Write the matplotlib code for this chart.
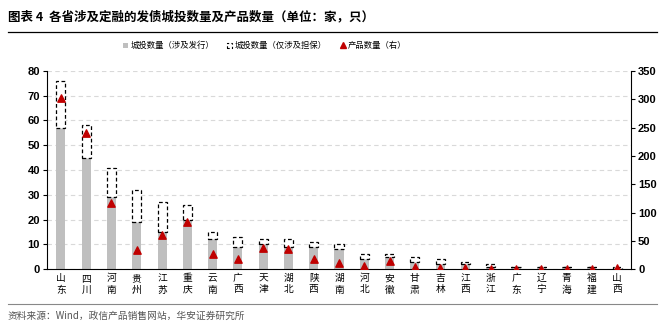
import matplotlib
matplotlib.use("Agg")
import matplotlib.pyplot as plt
from matplotlib.patches import Patch
from matplotlib.lines import Line2D

plt.rcParams['font.family'] = ['Noto Sans CJK SC', 'DejaVu Sans']

provinces = ["山东", "四川", "河南", "贵州", "江苏", "重庆", "云南", "广西", "天津", "湖北",
             "陕西", "湖南", "河北", "安徽", "甘肃", "吉林", "江西", "浙江", "广东", "辽宁",
             "青海", "福建", "山西"]
issue_count = [57, 45, 29, 19, 15, 20, 12, 9, 10, 9, 9, 8, 4, 5, 3, 2, 2, 1, 1, 1, 1, 1, 0]
guarantee_only = [19, 13, 12, 13, 12, 6, 3, 4, 2, 3, 2, 2, 2, 1, 2, 2, 1, 1, 0, 0, 0, 0, 1]
product_count = [303, 241, 117, 34, 60, 84, 27, 17, 38, 35, 17, 10, 6, 14, 4, 2, 2, 1, 1, 1, 1, 1, 2]

fig = plt.figure(figsize=(6.65, 3.27), dpi=100)
ax = fig.add_axes([0.0707, 0.177, 0.8783, 0.606])
ax2 = ax.twinx()

x = list(range(len(provinces)))
w = 0.36
ax.bar(x, issue_count, width=w, color='#BFBFBF', zorder=2)
ax.bar(x, guarantee_only, width=w, bottom=issue_count, facecolor='white',
       edgecolor='black', linestyle=(0, (3, 2)), linewidth=0.9, zorder=2)
ax2.scatter(x, product_count, marker='^', s=28, color='#C00000', zorder=5)

ax.set_ylim(0, 80)
ax.set_yticks(range(0, 81, 10))
ax2.set_ylim(0, 350)
ax2.set_yticks(range(0, 351, 50))
ax.set_xlim(-0.55, 22.55)
ax.set_xticks(x)
ax.set_xticklabels(["\n".join(p) for p in provinces], fontsize=7, linespacing=1.15)
ax.tick_params(axis='x', length=0, pad=3)
ax.yaxis.grid(True, linestyle=(0, (4, 3)), color='#D9D9D9', linewidth=0.8, zorder=0)
ax.set_axisbelow(True)

for a in (ax, ax2):
    a.spines['top'].set_visible(False)
    for lab in a.get_yticklabels():
        lab.set_family(['Liberation Sans', 'DejaVu Sans'])
        lab.set_fontweight('bold')
        lab.set_fontsize(8)
    a.tick_params(axis='y', length=3, width=0.8, pad=2)
ax.spines['right'].set_visible(False)
ax2.spines['left'].set_visible(False)
ax.spines['left'].set_linewidth(0.8)
ax2.spines['right'].set_linewidth(0.8)
ax.spines['bottom'].set_linewidth(0.8)
ax2.spines['bottom'].set_visible(False)

handles = [
    Patch(facecolor='#BFBFBF', edgecolor='none', label='城投数量（涉及发行）'),
    Patch(facecolor='white', edgecolor='black', linestyle=(0, (2, 2)), linewidth=0.8,
          label='城投数量（仅涉及担保）'),
    Line2D([], [], marker='^', color='#C00000', linestyle='none', markersize=4,
           label='产品数量（右）'),
]
fig.legend(handles=handles, loc='center', bbox_to_anchor=(0.398, 0.86), ncol=3,
           frameon=False, fontsize=6, handlelength=0.6, handleheight=0.6,
           handletextpad=0.3, columnspacing=1.6)

fig.text(0.012, 0.95, "图表 4  各省涉及定融的发债城投数量及产品数量（单位：家，只）",
         fontsize=9, fontweight='bold', va='center', ha='left')
fig.add_artist(Line2D([0.012, 0.988], [0.903, 0.903], color='black', linewidth=0.9,
                      transform=fig.transFigure))
fig.add_artist(Line2D([0.012, 0.988], [0.07, 0.07], color='#888888', linewidth=0.8,
                      transform=fig.transFigure))
fig.text(0.012, 0.033, "资料来源：Wind，政信产品销售网站，华安证券研究所",
         fontsize=7, color='#555555', va='center', ha='left')

fig.savefig("out.png", dpi=100)
